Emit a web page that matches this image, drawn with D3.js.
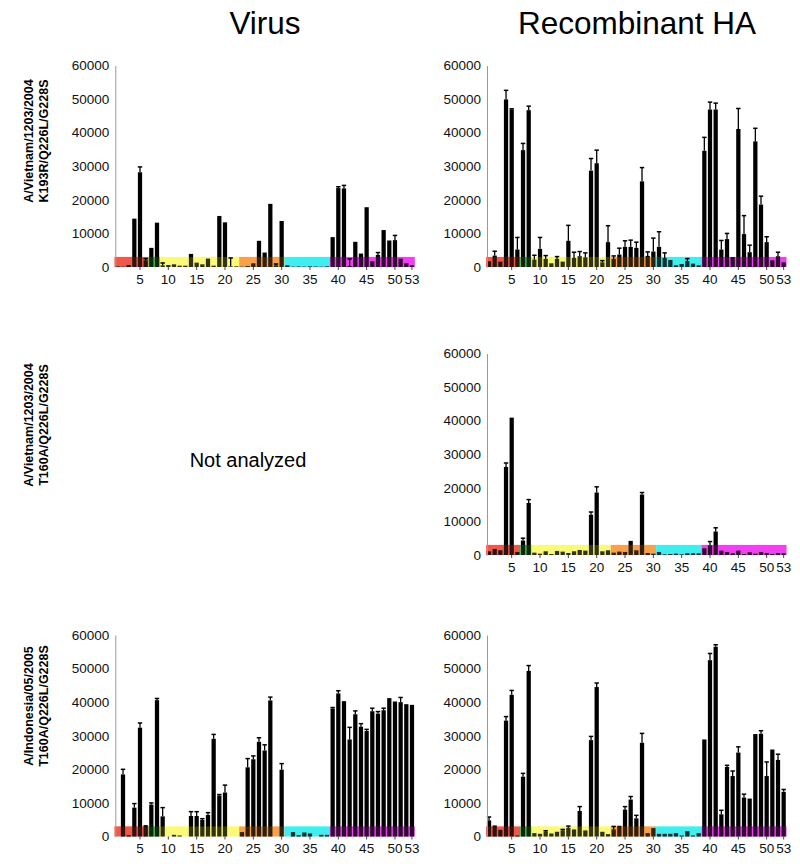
<!DOCTYPE html>
<html>
<head>
<meta charset="utf-8">
<script src="https://cdn.jsdelivr.net/npm/d3@7"></script>
<style>
    body { margin: 0; background: #fff; }
    text { font-family: "Liberation Sans", Arial, sans-serif; }
</style>
</head>
<body>
<svg id="chart" width="800" height="864"></svg>
<script>
// glycan numbers on the array
const glycans = d3.range(1, 54);
const yTicks = [0, 10000, 20000, 30000, 40000, 50000, 60000];
const xTicks = [5, 10, 15, 20, 25, 30, 35, 40, 45, 50, 53];

const columnTitles = ['Virus', 'Recombinant HA'];
const rowLabels = [
    ['A/Vietnam/1203/2004', 'K193R/Q226L/G228S'],
    ['A/Vietnam/1203/2004', 'T160A/Q226L/G228S'],
    ['A/Indonesia/05/2005', 'T160A/Q226L/G228S']
];

// glycan classes shown as the coloured strip on the x axis: [from, to, colour]
const glycanGroups = [
    [0.5, 6.5, '#f0594a'],
    [6.5, 8.5, '#4cc04c'],
    [8.5, 22.5, '#fafa78'],
    [22.5, 30.5, '#f8a04a'],
    [30.5, 38.5, '#40eef0'],
    [38.5, 53.5, '#f040f0']
];

// VN1203 K193R/Q226L/G228S, virus
const virusK193R = [200, 100, 600, 14400, 28200, 2000, 5700, 13200, 500, 600,
    800, 400, 400, 3900, 1300, 800, 2500, 400, 15200, 13300,
    200, 200, 100, 300, 1100, 7800, 4300, 18800, 500, 13700,
    500, 100, 150, 100, 200, 150, 100, 200, 8900, 23500,
    23400, 300, 7500, 4000, 17800, 1700, 3600, 11000, 7900, 8000,
    2500, 1100, 500];
const virusK193RErr = [0, 0, 0, 0, 1600, 500, 0, 0, 700, 0,
    0, 0, 0, 0, 0, 0, 0, 0, 0, 0,
    2500, 0, 0, 0, 0, 0, 0, 0, 400, 0,
    0, 0, 0, 0, 0, 0, 0, 0, 0, 400,
    900, 2100, 0, 0, 0, 0, 700, 0, 0, 1400,
    0, 0, 0];

// VN1203 K193R/Q226L/G228S, recombinant HA
const haK193R = [1700, 3400, 1600, 49900, 46900, 5200, 34800, 46700, 2200, 5400,
    2400, 1100, 2400, 1600, 7800, 2700, 3200, 2900, 28700, 30900,
    1400, 7400, 2400, 3700, 6000, 6000, 5700, 25500, 3300, 4600,
    6000, 2700, 2100, 500, 900, 1800, 1000, 500, 34600, 46900,
    46900, 5200, 8300, 2500, 41100, 9800, 4400, 37400, 18600, 7400,
    2000, 3200, 1400];
const haK193RErr = [0, 1300, 0, 2700, 200, 3600, 2000, 1200, 1300, 3400,
    1000, 0, 700, 0, 4600, 1700, 1400, 1300, 3600, 3900,
    500, 4900, 900, 1900, 1800, 2000, 1700, 4100, 1200, 4000,
    4500, 1500, 0, 0, 0, 700, 0, 0, 4000, 2200,
    1900, 2700, 1700, 200, 6100, 5500, 2100, 3900, 2500, 1600,
    0, 1200, 0];

// VN1203 T160A/Q226L/G228S, recombinant HA
const haVnT160A = [1100, 1800, 1400, 26200, 40900, 900, 4300, 15500, 700, 400,
    1100, 300, 1200, 1000, 600, 1100, 1500, 1300, 12000, 18600,
    1100, 1400, 700, 1000, 900, 4200, 1400, 18000, 600, 400,
    900, 200, 300, 400, 200, 500, 500, 500, 2000, 2900,
    7000, 1300, 900, 500, 1300, 300, 800, 400, 900, 600,
    300, 600, 500];
const haVnT160AErr = [0, 0, 0, 1200, 0, 0, 700, 1000, 0, 0,
    0, 0, 0, 0, 0, 0, 0, 0, 800, 1700,
    0, 0, 0, 0, 0, 0, 0, 600, 0, 0,
    0, 0, 0, 0, 0, 0, 0, 0, 0, 1100,
    1100, 0, 0, 0, 0, 0, 0, 0, 0, 0,
    0, 0, 0];

// Indo05 T160A/Q226L/G228S, virus
const virusIndoT160A = [0, 18500, 400, 8600, 32400, 3400, 9500, 40600, 6000, 0,
    500, 300, 0, 6100, 6100, 4900, 6400, 29100, 12200, 13100,
    0, 0, 1300, 20600, 23000, 28200, 25600, 40500, 0, 19900,
    0, 1300, 400, 1200, 900, 0, 500, 500, 38100, 42600,
    40300, 28900, 36400, 32700, 31400, 37300, 36600, 37600, 41200, 40200,
    40000, 39400, 39200];
const virusIndoT160AErr = [0, 1500, 0, 1200, 1400, 0, 500, 500, 2600, 0,
    0, 0, 0, 1300, 1300, 400, 700, 1300, 300, 2200,
    0, 0, 0, 2600, 1000, 1200, 1700, 1000, 0, 1800,
    0, 0, 0, 0, 0, 0, 0, 0, 300, 800,
    0, 3600, 1000, 900, 500, 900, 600, 600, 0, 0,
    1400, 0, 0];

// Indo05 T160A/Q226L/G228S, recombinant HA
const haIndoT160A = [4800, 3300, 2000, 34500, 42200, 300, 17800, 49300, 1000, 800,
    1400, 900, 1400, 1800, 2600, 2100, 7600, 1800, 28700, 44500,
    1400, 700, 2100, 3200, 8000, 11000, 5400, 27900, 1000, 2500,
    800, 800, 800, 1000, 300, 1600, 300, 1000, 28900, 52500,
    56500, 6600, 20700, 18000, 25000, 11600, 11300, 30500, 30600, 18000,
    25900, 22800, 13300];
const haIndoT160AErr = [1000, 0, 0, 1200, 1300, 0, 1000, 1600, 0, 0,
    300, 0, 0, 300, 500, 0, 1300, 0, 1100, 1200,
    0, 0, 900, 0, 900, 900, 900, 2800, 0, 0,
    0, 0, 0, 0, 0, 0, 0, 0, 0, 2000,
    600, 1200, 500, 1500, 1700, 1000, 0, 0, 900, 4200,
    0, 1700, 700];

const panels = [
    { row: 0, col: 0, values: virusK193R, errors: virusK193RErr },
    { row: 0, col: 1, values: haK193R, errors: haK193RErr },
    { row: 1, col: 1, values: haVnT160A, errors: haVnT160AErr },
    { row: 2, col: 0, values: virusIndoT160A, errors: virusIndoT160AErr },
    { row: 2, col: 1, values: haIndoT160A, errors: haIndoT160AErr }
];

const colLeft = [114.5, 486.2]; // px, x of glycan 0.5
const plotWidth = 300.3;
const rowBottom = [267, 555, 836.5]; // px, y of 0
const plotHeight = 201.5;
const labelCenter = [141, 425, 706];

var svg = d3.select('#chart');

// column titles
svg.selectAll('text.title')
    .data(columnTitles)
    .enter().append('text')
    .attr('class', 'title')
    .attr('x', (d, i) => i === 0 ? 265 : 637)
    .attr('y', 34)
    .attr('text-anchor', 'middle')
    .style('font-size', '31.5px')
    .text(d => d);

// row labels, rotated
rowLabels.forEach(function(lines, r) {
    var t = svg.append('text')
        .attr('transform', 'translate(35,' + labelCenter[r] + ') rotate(-90)')
        .attr('text-anchor', 'middle')
        .style('font-size', '12.5px')
        .style('font-weight', 'bold');
    t.append('tspan').attr('x', 0).attr('dy', '-0.15em').text(lines[0]);
    t.append('tspan').attr('x', 0).attr('dy', '1.15em').text(lines[1]);
});

svg.append('text')
    .attr('x', 248)
    .attr('y', 467)
    .attr('text-anchor', 'middle')
    .style('font-size', '20px')
    .text('Not analyzed');

panels.forEach(function(p) {
    const x0 = colLeft[p.col];
    const y0 = rowBottom[p.row];

    var xBand = d3.scaleBand()
        .domain(glycans)
        .range([x0, x0 + plotWidth])
        .paddingInner(0.25)
        .paddingOuter(0.125);

    var xLin = d3.scaleLinear()
        .domain([0.5, 53.5])
        .range([x0, x0 + plotWidth]);

    var y = d3.scaleLinear()
        .domain([0, 60000])
        .range([y0, y0 - plotHeight]);

    var g = svg.append('g');

    // coloured glycan strip behind bars
    g.selectAll('rect.group')
        .data(glycanGroups)
        .enter().append('rect')
        .attr('class', 'group')
        .attr('x', d => xLin(d[0]))
        .attr('width', d => xLin(d[1]) - xLin(d[0]))
        .attr('y', y(3000))
        .attr('height', y(0) - y(3000))
        .attr('fill', d => d[2]);

    var rows = glycans.map((n, i) => ({ n: n, v: p.values[i], e: p.errors[i] }));

    g.selectAll('rect.bar')
        .data(rows)
        .enter().append('rect')
        .attr('class', 'bar')
        .attr('x', d => xBand(d.n))
        .attr('width', xBand.bandwidth())
        .attr('y', d => y(d.v))
        .attr('height', d => y(0) - y(d.v))
        .attr('fill', '#000');

    // strip again, faint, so bars pick up a tint
    g.selectAll('rect.tint')
        .data(glycanGroups)
        .enter().append('rect')
        .attr('class', 'tint')
        .attr('x', d => xLin(d[0]))
        .attr('width', d => xLin(d[1]) - xLin(d[0]))
        .attr('y', y(3000))
        .attr('height', y(0) - y(3000))
        .attr('fill', d => d[2])
        .attr('opacity', 0.2);

    var errs = rows.filter(d => d.e > 0);
    const cx = d => xBand(d.n) + xBand.bandwidth() / 2;

    g.selectAll('line.err')
        .data(errs)
        .enter().append('line')
        .attr('x1', cx).attr('x2', cx)
        .attr('y1', d => y(d.v))
        .attr('y2', d => y(d.v + d.e))
        .attr('stroke', '#000')
        .attr('stroke-width', 1.3);

    g.selectAll('line.cap')
        .data(errs)
        .enter().append('line')
        .attr('x1', d => cx(d) - 2.2).attr('x2', d => cx(d) + 2.2)
        .attr('y1', d => y(d.v + d.e))
        .attr('y2', d => y(d.v + d.e))
        .attr('stroke', '#000')
        .attr('stroke-width', 1.5);

    // y axis: grey line, labels only
    var yAxis = d3.axisLeft(y)
        .tickValues(yTicks)
        .tickFormat(d3.format('d'))
        .tickSize(0)
        .tickPadding(6);

    var gY = g.append('g')
        .attr('transform', 'translate(' + (x0 + 0.8) + ',0)')
        .call(yAxis);
    gY.select('.domain').attr('stroke', '#9a9a9a');
    gY.selectAll('text')
        .style('font-size', '13.5px')
        .style('font-family', '"Liberation Sans", Arial, sans-serif')
        .attr('fill', '#111');

    var xAxis = d3.axisBottom(xBand)
        .tickValues(xTicks)
        .tickSize(3)
        .tickPadding(4);

    var gX = g.append('g')
        .attr('transform', 'translate(0,' + y0 + ')')
        .call(xAxis);
    gX.select('.domain').remove();
    gX.selectAll('.tick line').attr('stroke', '#444');
    gX.selectAll('text')
        .style('font-size', '13.5px')
        .style('font-family', '"Liberation Sans", Arial, sans-serif')
        .attr('fill', '#111');
});
</script>
</body>
</html>
